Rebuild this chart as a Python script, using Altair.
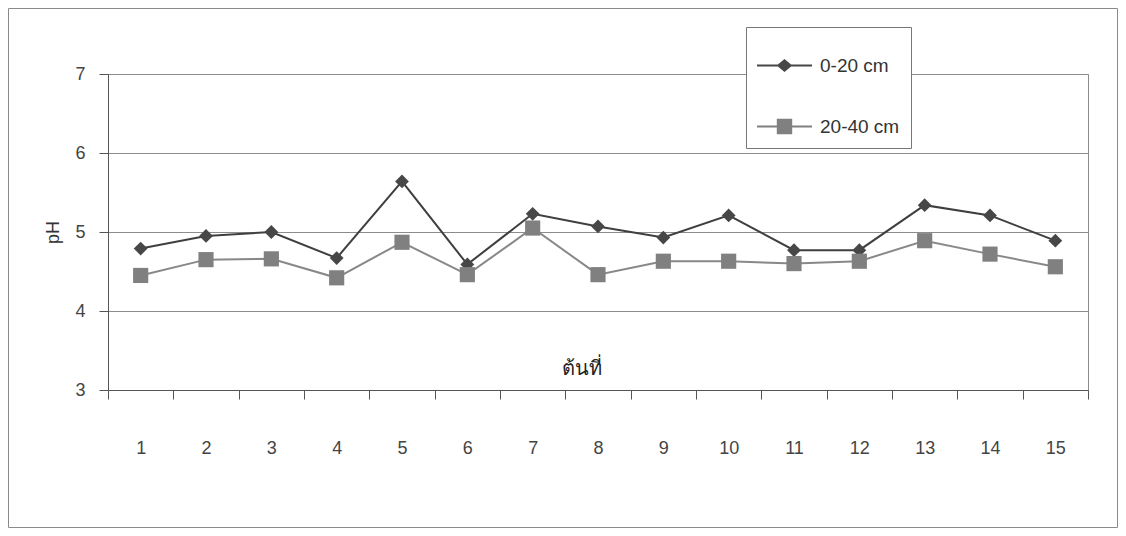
import altair as alt
import pandas as pd

trees = [str(i) for i in range(1, 16)]
series_names = ["0-20 cm", "20-40 cm"]
ph_0_20 = [4.79, 4.95, 5.00, 4.67, 5.64, 4.59, 5.23, 5.07, 4.93, 5.21, 4.77, 4.77, 5.34, 5.21, 4.89]
ph_20_40 = [4.45, 4.65, 4.66, 4.42, 4.87, 4.46, 5.05, 4.46, 4.63, 4.63, 4.60, 4.63, 4.89, 4.72, 4.56]
y_ticks = [3, 4, 5, 6, 7]
x_title = "ต้นที่"
y_title = "pH"

colors = ["#474747", "#808080"]
line_colors = ["#3f3f3f", "#888888"]

rows = []
for t, a, b in zip(trees, ph_0_20, ph_20_40):
    rows.append({"tree": t, "series": series_names[0], "ph": a})
    rows.append({"tree": t, "series": series_names[1], "ph": b})
df = pd.DataFrame(rows)

FONT = "Liberation Sans"

x_enc = alt.X(
    "tree:N",
    sort=trees,
    scale=alt.Scale(type="band", paddingInner=0, paddingOuter=0),
    axis=alt.Axis(
        title=x_title,
        titleFont="Noto Sans",
        titleFontSize=20,
        titleFontWeight="normal",
        titleColor="#222222",
        titleX=473,
        titleY=-32,
        titleAnchor="middle",
        labelAngle=0,
        labelFont=FONT,
        labelFontSize=18,
        labelColor="#444444",
        labelPadding=40,
        tickBand="extent",
        tickSize=9,
        tickColor="#555555",
        domainColor="#555555",
        grid=False,
    ),
)
y_enc = alt.Y(
    "ph:Q",
    scale=alt.Scale(domain=[3, 7], nice=False, zero=False),
    axis=alt.Axis(
        title=y_title,
        values=y_ticks,
        format="d",
        titleFont=FONT,
        titleFontSize=18,
        titleFontWeight="normal",
        titleColor="#333333",
        titleX=-55,
        titleBaseline="middle",
        labelFont=FONT,
        labelFontSize=18,
        labelColor="#444444",
        labelPadding=14,
        tickSize=9,
        tickColor="#555555",
        domainColor="#555555",
        grid=True,
        gridColor="#8c8c8c",
        gridWidth=1,
    ),
)

lines = alt.Chart(df).mark_line(strokeWidth=2).encode(
    x=x_enc,
    y=y_enc,
    color=alt.Color("series:N", scale=alt.Scale(domain=series_names, range=line_colors), legend=None),
)

points = alt.Chart(df).mark_point(filled=True, opacity=1).encode(
    x=alt.X("tree:N", sort=trees),
    y="ph:Q",
    fill=alt.Fill("series:N", scale=alt.Scale(domain=series_names, range=colors), legend=None),
    shape=alt.Shape("series:N", scale=alt.Scale(domain=series_names, range=["diamond", "square"]), legend=None),
    size=alt.Size("series:N", scale=alt.Scale(domain=series_names, range=[190, 230]), legend=None),
)

# legend-only layer (drawn off-canvas), symbols combine line + marker
leg_diamond = "M-1,-0.036L-0.24,-0.036L0,-0.24L0.24,-0.036L1,-0.036L1,0.036L0.24,0.036L0,0.24L-0.24,0.036L-1,0.036Z"
leg_square = "M-1,-0.036L-0.28,-0.036L-0.28,-0.28L0.28,-0.28L0.28,-0.036L1,-0.036L1,0.036L0.28,0.036L0.28,0.28L-0.28,0.28L-0.28,0.036L-1,0.036Z"
legend_df = pd.DataFrame({"series": series_names})
legend_layer = alt.Chart(legend_df).mark_point(filled=True, opacity=1, size=3025).encode(
    x=alt.value(-5000),
    y=alt.value(-5000),
    shape=alt.Shape(
        "series:N",
        scale=alt.Scale(domain=series_names, range=[leg_diamond, leg_square]),
        legend=alt.Legend(
            title=None,
            orient="none",
            legendX=638,
            legendY=-47,
            strokeColor="#777777",
            fillColor="white",
            padding=11,
            rowPadding=23,
            symbolSize=3025,
            symbolOpacity=1,
            symbolStrokeWidth=0,
            labelFont=FONT,
            labelFontSize=19,
            labelColor="#333333",
            labelOffset=8,
        ),
    ),
    fill=alt.Fill(
        "series:N",
        scale=alt.Scale(domain=series_names, range=colors),
        legend=None,
    ),
)

border_df = pd.DataFrame({"k": [0]})
border = alt.Chart(border_df).mark_rect(fillOpacity=0, stroke="#8a8a8a", strokeWidth=1).encode(
    x=alt.value(-99.5), x2=alt.value(1009.5), y=alt.value(-65.5), y2=alt.value(453.5)
)

chart = (
    alt.layer(border, lines, points, legend_layer)
    .resolve_scale(shape="independent", fill="independent", size="independent")
    .properties(
        width=980,
        height=316,
        autosize=alt.AutoSizeParams(type="none"),
        padding={"left": 100, "top": 66, "right": 30, "bottom": 138},
        background="white",
    )
    .configure_view(stroke="#8c8c8c", strokeWidth=1)
)

chart.save("out.html", embed_options={"renderer": "svg", "actions": False})
